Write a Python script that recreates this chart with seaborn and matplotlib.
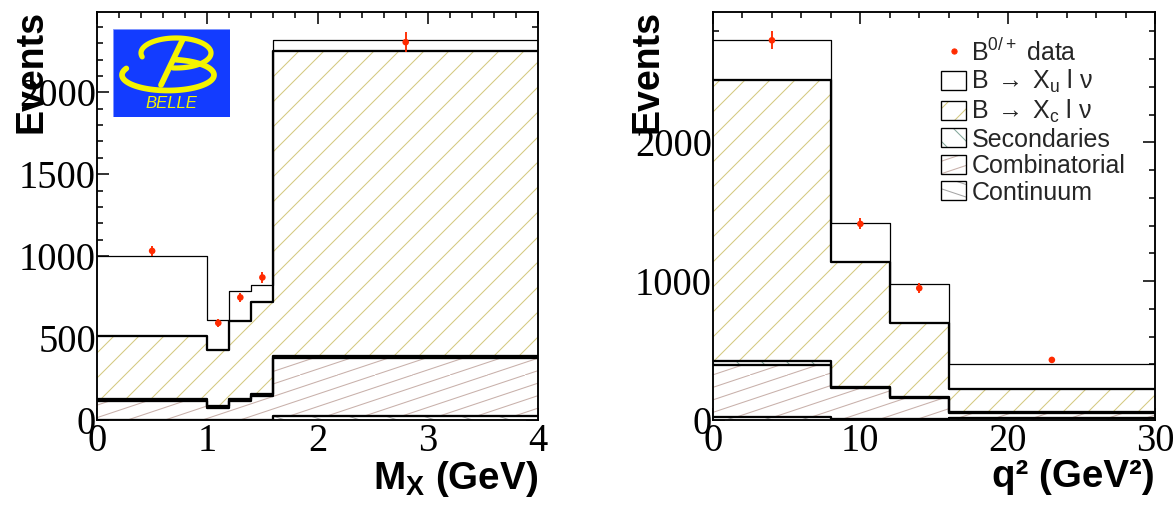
import numpy as np
import matplotlib
matplotlib.use("Agg")
import matplotlib.pyplot as plt
import matplotlib.hatch as mhatch
from matplotlib.path import Path
from matplotlib.patches import Patch, Rectangle
from matplotlib.lines import Line2D
from matplotlib.ticker import MultipleLocator
import seaborn as sns

# ---- M_X panel (cumulative stack tops) ----
mx_edges = [0.0, 1.0, 1.2, 1.4, 1.6, 4.0]
mx_cont = [0, 0, 0, 0, 24]
mx_comb = [116, 72, 116, 146, 376]
mx_sec = [128, 84, 128, 157, 392]
mx_xc = [511, 426, 602, 718, 2250]
mx_xu = [998, 613, 785, 822, 2320]
mx_data_x = [0.5, 1.1, 1.3, 1.5, 2.8]
mx_data_y = [1032, 592, 748, 870, 2306]
mx_data_err = [30, 22, 28, 32, 62]

# ---- q^2 panel (cumulative stack tops) ----
q2_edges = [0.0, 8.0, 12.0, 16.0, 30.0]
q2_cont = [20, 4, 4, 12]
q2_comb = [394, 230, 162, 48]
q2_sec = [422, 238, 168, 55]
q2_xc = [2450, 1137, 702, 221]
q2_xu = [2735, 1418, 978, 404]
q2_data_x = [4.0, 10.0, 14.0, 23.0]
q2_data_y = [2736, 1413, 950, 433]
q2_data_err = [65, 40, 35, 15]

legend_labels = ["B$^{\\mathrm{0/+}}$ data", "B$\\;\\rightarrow\\;$X$_{\\mathrm{u}}$ l ν",
                 "B$\\;\\rightarrow\\;$X$_{\\mathrm{c}}$ l ν", "Secondaries", "Combinatorial",
                 "Continuum"]

RED = "#ff2a00"
XC_COL = "#d4c980"
SEC_COL = "#84a89c"
COMB_COL = "#c8b0aa"
CONT_COL = "#a6a6a6"
SANS = ["Liberation Sans", "DejaVu Sans"]


# shallow ROOT-like hatches: '-' -> rising lines, '|' -> falling lines (slope 1/3)
def make_shallow(char, sign):
    class ShallowHatch(mhatch.HatchPatternBase):
        def __init__(self, hatch, density):
            n = int(hatch.count(char) * density)
            self.offsets = [k / n for k in range(-(n // 3), n)] if n else []
            self.num_vertices = 2 * len(self.offsets)

        def set_vertices_and_codes(self, vertices, codes):
            for i, c in enumerate(self.offsets):
                x0, y0 = 0.0, c
                x1, y1 = 1.0, c + 1 / 3
                if y0 < 0:
                    x0, y0 = -3 * c, 0.0
                if y1 > 1:
                    x1, y1 = 3 * (1 - c), 1.0
                if sign < 0:
                    y0, y1 = 1 - y0, 1 - y1
                vertices[2 * i] = (x0, y0)
                vertices[2 * i + 1] = (x1, y1)
                codes[2 * i] = Path.MOVETO
                codes[2 * i + 1] = Path.LINETO
    return ShallowHatch


mhatch._hatch_types = [make_shallow("-", 1) if t is mhatch.HorizontalHatch else
                       make_shallow("|", -1) if t is mhatch.VerticalHatch else t
                       for t in mhatch._hatch_types]

sns.set_theme(style="ticks")
plt.rcParams["font.family"] = ["Liberation Serif", "DejaVu Serif"]
plt.rcParams["mathtext.fontset"] = "custom"
plt.rcParams["mathtext.rm"] = "Liberation Sans"
plt.rcParams["mathtext.it"] = "Liberation Sans:italic"
plt.rcParams["mathtext.bf"] = "Liberation Sans:bold"
plt.rcParams["hatch.linewidth"] = 1.0
plt.rcParams["axes.linewidth"] = 1.8

DPI = 75
fig = plt.figure(figsize=(1173 / DPI, 511 / DPI), dpi=DPI)
fig.patch.set_facecolor("white")
ax1 = fig.add_axes([97 / 1173, 91 / 511, 441 / 1173, 408 / 511])
ax2 = fig.add_axes([713 / 1173, 91 / 511, 442 / 1173, 408 / 511])


def draw_stack(ax, edges, layers):
    centers = [(a + b) / 2 for a, b in zip(edges[:-1], edges[1:])]
    for vals, hcol, hatch, lw in layers:
        sns.histplot(x=centers, weights=vals, bins=edges, element="step", fill=True,
                     facecolor="white", edgecolor=hcol, hatch=hatch, linewidth=0,
                     alpha=1, ax=ax)
    for vals, hcol, hatch, lw in layers:
        sns.histplot(x=centers, weights=vals, bins=edges, element="step", fill=False,
                     color="black", linewidth=lw, ax=ax)


def style_axes(ax, xmax, ymax, xmaj, xmin, ymaj, ymin):
    ax.set_xlim(0, xmax)
    ax.set_ylim(0, ymax)
    ax.xaxis.set_major_locator(MultipleLocator(xmaj))
    ax.xaxis.set_minor_locator(MultipleLocator(xmin))
    ax.yaxis.set_major_locator(MultipleLocator(ymaj))
    ax.yaxis.set_minor_locator(MultipleLocator(ymin))
    ax.tick_params(which="both", direction="in", top=True, right=True,
                   colors="black", labelsize=37, width=1.5)
    ax.tick_params(which="major", length=11.5)
    ax.tick_params(which="minor", length=6)
    ax.tick_params(axis="y", pad=1)
    ax.tick_params(axis="x", pad=3)
    for s in ax.spines.values():
        s.set_color("black")
        s.set_linewidth(1.8)
    ax.set_facecolor("white")
    ax.set_ylabel("Events", loc="top", fontsize=36, fontweight="bold",
                  fontfamily=SANS, color="black")
    ax.yaxis.label.set_va("center")
    ax.yaxis.set_label_coords(-0.148, 1.005)


# left panel
draw_stack(ax1, mx_edges, [
    (mx_xu, "white", None, 1.2),
    (mx_xc, XC_COL, "/", 2.2),
    (mx_sec, SEC_COL, "\\", 2.2),
    (mx_comb, COMB_COL, "-", 2.2),
    (mx_cont, CONT_COL, "|", 2.2),
])
ax1.errorbar(mx_data_x, mx_data_y, yerr=mx_data_err, fmt="none", ecolor=RED,
             elinewidth=1.8, capsize=0, zorder=6)
sns.scatterplot(x=mx_data_x, y=mx_data_y, color=RED, s=40, edgecolor="none",
                ax=ax1, zorder=7)
style_axes(ax1, 4, 2490, 1, 0.2, 500, 100)
ax1.set_xlabel(r"$\mathbf{M_X}$ (GeV)", loc="right", fontsize=37, fontweight="bold",
               fontfamily=SANS, color="black")
ax1.xaxis.set_label_coords(1.0, -0.095)

# Belle logo (own little axes, pixel-like units 117 x 88)
lg = fig.add_axes([113 / 1173, (511 - 117) / 511, 117 / 1173, 88 / 511])
lg.set_xlim(0, 117)
lg.set_ylim(0, 88)
lg.axis("off")
lg.add_patch(Rectangle((0, 0), 117, 88, facecolor="#133cff", edgecolor="#7f95ff", lw=0.8))
YEL = "#f4f400"
t = np.radians(np.linspace(195, -95, 80))
lg.plot(63 + 35 * np.cos(t), 64 + 15 * np.sin(t), color=YEL, lw=5,
        solid_capstyle="round")
t = np.radians(np.linspace(80, -205, 100))
lg.plot(55 + 46 * np.cos(t), 42 + 15.5 * np.sin(t), color=YEL, lw=5.5,
        solid_capstyle="round")
lg.plot([70, 48], [78, 32], color=YEL, lw=5.5, solid_capstyle="round")
lg.text(58, 14, "BELLE", fontsize=16, fontstyle="italic", color=YEL,
        ha="center", va="center", fontfamily=SANS)

# right panel
draw_stack(ax2, q2_edges, [
    (q2_xu, "white", None, 1.2),
    (q2_xc, XC_COL, "/", 2.2),
    (q2_sec, SEC_COL, "\\", 2.2),
    (q2_comb, COMB_COL, "-", 2.2),
    (q2_cont, CONT_COL, "|", 2.2),
])
ax2.errorbar(q2_data_x, q2_data_y, yerr=q2_data_err, fmt="none", ecolor=RED,
             elinewidth=1.8, capsize=0, zorder=6)
sns.scatterplot(x=q2_data_x, y=q2_data_y, color=RED, s=40, edgecolor="none",
                ax=ax2, zorder=7)
style_axes(ax2, 30, 2940, 10, 2, 1000, 200)
ax2.set_xlabel("q² (GeV²)", loc="right", fontsize=37, fontweight="bold",
               fontfamily=SANS, color="black")
ax2.xaxis.set_label_coords(1.0, -0.095)


def boxed(col, hatch):
    return (Patch(facecolor="white", edgecolor=col, hatch=hatch, lw=0),
            Patch(facecolor="none", edgecolor="black", lw=1.3))


handles = [
    Line2D([], [], marker="o", ls="none", color=RED, ms=5),
    Patch(facecolor="white", edgecolor="black", lw=1.3),
    boxed(XC_COL, "/"),
    boxed(SEC_COL, "\\"),
    boxed(COMB_COL, "-"),
    boxed(CONT_COL, "|"),
]
ax2.legend(handles, legend_labels, loc="upper left", bbox_to_anchor=(0.515, 0.935),
           frameon=False, handlelength=1.03, handleheight=0.8, handletextpad=0.2,
           labelspacing=0.1, borderpad=0, borderaxespad=0,
           prop={"family": SANS, "size": 24})

fig.savefig("out.png", dpi=DPI, facecolor="white")
